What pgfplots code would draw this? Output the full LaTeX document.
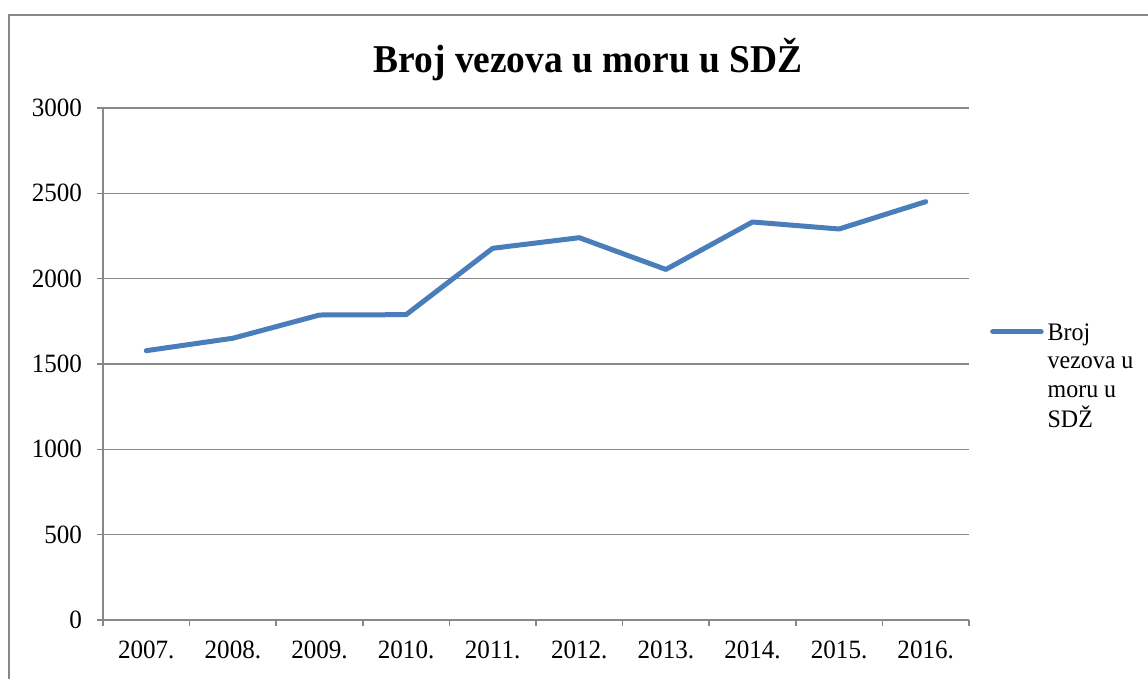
\documentclass[border=0pt]{standalone}
\usepackage{fontspec}
\setmainfont{Liberation Serif}[FakeStretch=0.95]
\usepackage{pgfplots}
\pgfplotsset{compat=1.18}
\definecolor{lineblue}{HTML}{4A7EBB}
\definecolor{gridgray}{HTML}{878787}
\begin{document}
\begin{tikzpicture}
\useasboundingbox (-51.5pt,-29.5pt) rectangle (522.5pt,310pt);
\draw[gridgray, line width=0.75pt] (-47pt,-60pt) rectangle (560pt,302.5pt);
\begin{axis}[
  at={(0,0)}, anchor=south west,
  scale only axis, width=433pt, height=256pt,
  xmin=-0.5, xmax=9.5, ymin=0, ymax=3000,
  xtick={-0.5,0.5,1.5,2.5,3.5,4.5,5.5,6.5,7.5,8.5,9.5},
  xticklabels={2007.,2008.,2009.,2010.,2011.,2012.,2013.,2014.,2015.,2016.},
  x tick label as interval,
  ytick={0,500,...,3000},
  ymajorgrids,
  grid style={gridgray, line width=0.75pt},
  axis x line*=bottom, axis y line*=left,
  axis line style={gridgray, line width=0.75pt, -},
  tick align=outside,
  tick style={gridgray, line width=0.75pt},
  major tick length=3pt,
  /pgf/number format/assume math mode=true,
  /pgf/number format/set thousands separator={},
  tick label style={font=\fontsize{13.2}{15}\selectfont, black},
  yticklabel style={xshift=-4pt},
  xticklabel style={yshift=-4pt},
  title={Broj vezova u moru u SDŽ},
  title style={at={(0.56,1.045)}, anchor=base, yshift=0pt, font=\fontsize{19.7}{23}\bfseries\selectfont},
  legend style={at={(1.024,0.594)}, anchor=north west, draw=none, fill=none, inner sep=0pt,
    font=\fontsize{12.6}{14.3}\selectfont},
  legend cell align=left,
  legend image code/.code={\draw[#1, line cap=round] (1.25pt,0pt) -- (25.5pt,0pt);},
]
\addplot[lineblue, line width=2.5pt, line join=round, line cap=round] coordinates {
  (0,1578) (1,1651) (2,1787) (3,1789) (4,2178) (5,2240) (6,2054) (7,2332) (8,2291) (9,2451)
};
\addlegendentry{\begin{tabular}[t]{@{}l@{}}Broj\\vezova u\\moru u\\SDŽ\end{tabular}}
\end{axis}
\end{tikzpicture}
\end{document}
